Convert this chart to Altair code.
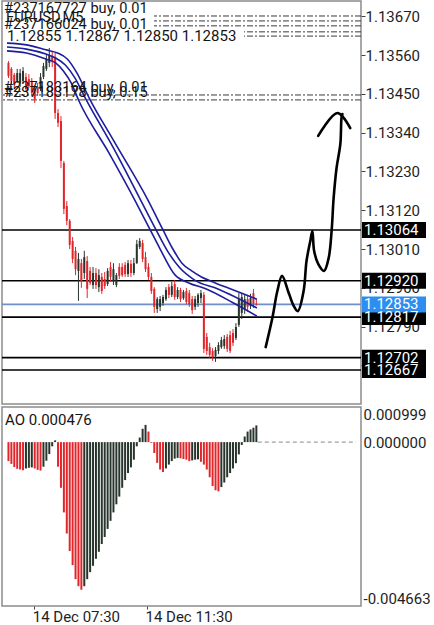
import altair as alt
import numpy as np
import pandas as pd

# ---------------- values ----------------
opens = [1.13538, 1.13521, 1.13504, 1.13487, 1.13481, 1.13487, 1.13498, 1.13492, 1.13487, 1.13464,
         1.13470, 1.13464, 1.13498, 1.13521, 1.13538, 1.13558, 1.13555, 1.13396, 1.13373, 1.13254,
         1.13132, 1.13090, 1.13033, 1.13005, 1.12948, 1.12970, 1.12942, 1.12976, 1.12948, 1.12908,
         1.12942, 1.12902, 1.12931, 1.12925, 1.12911, 1.12959, 1.12919, 1.12908, 1.12959, 1.12959,
         1.12965, 1.12939, 1.12968, 1.12942, 1.12970, 1.13016, 1.13027, 1.12987, 1.12959, 1.12931,
         1.12897, 1.12840, 1.12846, 1.12857, 1.12868, 1.12902, 1.12880, 1.12911, 1.12874, 1.12894,
         1.12871, 1.12891, 1.12885, 1.12868, 1.12846, 1.12857, 1.12871, 1.12880, 1.12761, 1.12732,
         1.12721, 1.12707, 1.12721, 1.12732, 1.12735, 1.12761, 1.12766, 1.12772, 1.12758, 1.12795,
         1.12829, 1.12840, 1.12868, 1.12849, 1.12885, 1.12855]
highs = [1.13543, 1.13526, 1.13509, 1.13521, 1.13521, 1.13526, 1.13509, 1.13506, 1.13495, 1.13470,
         1.13481, 1.13509, 1.13538, 1.13560, 1.13580, 1.13572, 1.13566, 1.13407, 1.13387, 1.13260,
         1.13146, 1.13095, 1.13044, 1.13016, 1.12999, 1.12982, 1.13005, 1.12990, 1.12959, 1.12959,
         1.12956, 1.12953, 1.12942, 1.12945, 1.12956, 1.12973, 1.12970, 1.12942, 1.12970, 1.12970,
         1.12973, 1.12979, 1.12979, 1.12985, 1.13036, 1.13041, 1.13036, 1.13002, 1.12970, 1.12942,
         1.12902, 1.12874, 1.12877, 1.12880, 1.12902, 1.12911, 1.12917, 1.12922, 1.12902, 1.12900,
         1.12894, 1.12900, 1.12894, 1.12877, 1.12877, 1.12885, 1.12894, 1.12888, 1.12772, 1.12744,
         1.12729, 1.12732, 1.12746, 1.12761, 1.12766, 1.12769, 1.12778, 1.12783, 1.12800, 1.12885,
         1.12885, 1.12880, 1.12877, 1.12883, 1.12897, 1.12867]
lows = [1.13495, 1.13475, 1.13464, 1.13481, 1.13470, 1.13481, 1.13458, 1.13467, 1.13444, 1.13424,
        1.13444, 1.13458, 1.13492, 1.13515, 1.13526, 1.13526, 1.13379, 1.13356, 1.13240, 1.13109,
        1.13078, 1.13010, 1.12970, 1.12936, 1.12863, 1.12900, 1.12925, 1.12871, 1.12908, 1.12897,
        1.12897, 1.12888, 1.12883, 1.12897, 1.12905, 1.12917, 1.12908, 1.12902, 1.12925, 1.12931,
        1.12931, 1.12931, 1.12931, 1.12936, 1.12968, 1.13010, 1.12973, 1.12945, 1.12922, 1.12883,
        1.12829, 1.12829, 1.12834, 1.12849, 1.12863, 1.12871, 1.12874, 1.12866, 1.12868, 1.12860,
        1.12866, 1.12854, 1.12846, 1.12826, 1.12837, 1.12846, 1.12857, 1.12715, 1.12710, 1.12701,
        1.12693, 1.12690, 1.12712, 1.12727, 1.12727, 1.12718, 1.12715, 1.12735, 1.12752, 1.12789,
        1.12812, 1.12826, 1.12832, 1.12840, 1.12843, 1.12850]
closes = [1.13501, 1.13487, 1.13475, 1.13509, 1.13509, 1.13515, 1.13464, 1.13472, 1.13453, 1.13436,
          1.13453, 1.13498, 1.13529, 1.13549, 1.13560, 1.13543, 1.13396, 1.13368, 1.13260, 1.13124,
          1.13090, 1.13022, 1.12982, 1.12953, 1.12982, 1.12919, 1.12987, 1.12897, 1.12914, 1.12942,
          1.12908, 1.12936, 1.12891, 1.12905, 1.12948, 1.12931, 1.12953, 1.12936, 1.12934, 1.12936,
          1.12939, 1.12970, 1.12942, 1.12970, 1.13024, 1.13033, 1.12982, 1.12953, 1.12931, 1.12891,
          1.12846, 1.12868, 1.12868, 1.12874, 1.12894, 1.12880, 1.12905, 1.12874, 1.12894, 1.12868,
          1.12888, 1.12860, 1.12854, 1.12837, 1.12868, 1.12880, 1.12885, 1.12727, 1.12721, 1.12710,
          1.12704, 1.12724, 1.12738, 1.12752, 1.12755, 1.12727, 1.12721, 1.12744, 1.12789, 1.12868,
          1.12874, 1.12868, 1.12846, 1.12871, 1.12854, 1.12853]

ao_values = [-0.00054, -0.00062, -0.00071, -0.00076, -0.00078, -0.00080, -0.00075, -0.00073, -0.00072, -0.00075,
             -0.00079, -0.00081, -0.00070, -0.00053, -0.00034, -0.00012, 0.00005, -0.00070, -0.00130, -0.00200,
             -0.00260, -0.00310, -0.00350, -0.00390, -0.00410, -0.00420, -0.00410, -0.00390, -0.00370, -0.00352,
             -0.00332, -0.00312, -0.00290, -0.00270, -0.00247, -0.00224, -0.00200, -0.00177, -0.00155, -0.00130,
             -0.00108, -0.00088, -0.00072, -0.00050, -0.00012, 0.00013, 0.00038, 0.00049, 0.00030, -0.00002,
             -0.00031, -0.00059, -0.00078, -0.00085, -0.00075, -0.00064, -0.00054, -0.00047, -0.00045, -0.00046,
             -0.00048, -0.00050, -0.00054, -0.00052, -0.00050, -0.00049, -0.00056, -0.00064, -0.00078, -0.00100,
             -0.00125, -0.00137, -0.00140, -0.00128, -0.00115, -0.00100, -0.00088, -0.00075, -0.00060, -0.00035,
             -0.00008, 0.00016, 0.00030, 0.00036, 0.00041, 0.000476]

# three moving averages (bar position, price)
ma_top_x = [-0.5, 6.17, 12.83, 16.83, 20.17, 23.5, 27.83, 36.17, 47.83, 52.83, 56.17, 59.5, 62.83, 66.17, 69.5, 75.17, 85.17]
ma_top_p = [1.13594, 1.13589, 1.13575, 1.13566, 1.13549, 1.13509, 1.13436, 1.13316, 1.13149, 1.13067, 1.13013,
            1.12970, 1.12948, 1.12931, 1.12919, 1.12900, 1.12868]
ma_mid_x = [-0.5, 6.17, 12.83, 16.17, 19.5, 22.83, 26.17, 36.17, 45.5, 50.83, 54.5, 58.5, 63.83, 71.83, 85.17]
ma_mid_p = [1.13583, 1.13577, 1.13563, 1.13552, 1.13532, 1.13495, 1.13441, 1.13294, 1.13146, 1.13061, 1.13005,
            1.12959, 1.12922, 1.12897, 1.12843]
ma_bot_x = [-0.5, 6.17, 12.83, 16.17, 18.83, 21.5, 24.17, 34.5, 43.5, 48.83, 51.83, 57.17, 61.83, 67.83, 77.17, 85.17]
ma_bot_p = [1.13572, 1.13566, 1.13549, 1.13538, 1.13515, 1.13481, 1.13430, 1.13282, 1.13146, 1.13061, 1.13013,
            1.12936, 1.12914, 1.12897, 1.12857, 1.12820]

# hand-drawn forecast arrow (bar position, price)
arrow_x = [88.2, 90.5, 92.2, 93.8, 96.2, 97.8, 99.2, 101.2, 102.2, 103.5, 104.2, 104.8, 106.2, 108.2, 109.8,
           110.8, 111.5, 112.5, 113.8, 114.2, 114.5]
arrow_p = [1.12732, 1.12815, 1.12891, 1.12934, 1.12883, 1.12849, 1.12834, 1.12891, 1.12976, 1.13033, 1.13061,
           1.13005, 1.12968, 1.12948, 1.12985, 1.13061, 1.13155, 1.13240, 1.13308, 1.13382, 1.13393]
head_x = [106.2, 112.8, 117.2]
head_p = [1.13331, 1.13396, 1.13353]

level_prices = [1.13064, 1.12920, 1.12817, 1.12702, 1.12667]
bid_price = 1.12853
order_line_prices = [1.13671, 1.13657, 1.13643, 1.13626, 1.13614, 1.13447, 1.13433]
order_labels = ["#237167727 buy, 0.01", "#237166024 buy, 0.01", "#237183164 buy, 0.01", "#237183178 buy, 0.15"]
order_label_prices = [1.13671, 1.13626, 1.13446, 1.13433]
symbol_label = "EURUSD,M5"

price_ticks = [1.13670, 1.13560, 1.13450, 1.13340, 1.13230, 1.13120, 1.13010, 1.12900, 1.12790, 1.12680]
ao_ticks = [0.000999, 0.0, -0.004663]
time_tick_pos = [8.83, 47.5]
time_tick_labels = ["14 Dec 07:30", "14 Dec 11:30"]

# ---------------- layout constants ----------------
W = 359
H_MAIN = 403
H_AO = 199
X_DOMAIN = [-0.5, W / 3 - 0.5]
Y_DOMAIN = [1.125706, 1.137135]
AO_DOMAIN = [min(ao_ticks), max(ao_ticks)]
FONT = "Roboto"
FS = 15
FS_TXT = 14.6
UP_C = "#27352c"
DN_C = "#e0262b"
TXT_C = "#151515"

XS = alt.Scale(domain=X_DOMAIN, nice=False, zero=False)
YS = alt.Scale(domain=Y_DOMAIN, nice=False, zero=False)
AOS = alt.Scale(domain=AO_DOMAIN, nice=False, zero=False)
DIR_SCALE = alt.Scale(domain=["up", "down"], range=[UP_C, DN_C])

n = len(opens)
candles = pd.DataFrame({"i": np.arange(n), "open": opens, "high": highs, "low": lows, "close": closes})
candles["dir"] = np.where(candles["close"] >= candles["open"], "up", "down")

ma = pd.concat([
    pd.DataFrame({"x": ma_top_x, "p": ma_top_p, "line": "top"}),
    pd.DataFrame({"x": ma_mid_x, "p": ma_mid_p, "line": "mid"}),
    pd.DataFrame({"x": ma_bot_x, "p": ma_bot_p, "line": "bot"}),
])

arrow = pd.concat([
    pd.DataFrame({"x": arrow_x, "p": arrow_p, "stroke": "body", "seq": range(len(arrow_x))}),
    pd.DataFrame({"x": head_x, "p": head_p, "stroke": "head", "seq": range(len(head_x))}),
])

# ---------------- main price panel ----------------
orders = alt.Chart(pd.DataFrame({"price": order_line_prices})).mark_rule(
    color="#3a3a3a", strokeWidth=1, strokeDash=[6, 2, 2, 2]
).encode(
    y=alt.Y("price:Q", scale=YS, title=None,
            axis=alt.Axis(orient="right", values=price_ticks, format=".5f", tickSize=4,
                          labelPadding=0, ticks=True, domain=False, grid=False, title=None,
                          labelFont=FONT, labelFontSize=FS, labelColor="#1e1e1e",
                          tickColor="#444444", labelOverlap=False))
)

# white backing of the chart-info text block (top-left)
one = pd.DataFrame({"k": [0]})
info_bg1 = alt.Chart(one).mark_rect(color="white").encode(
    x=alt.value(1), x2=alt.value(152), y=alt.value(1), y2=alt.value(29))
info_bg2 = alt.Chart(one).mark_rect(color="white").encode(
    x=alt.value(1), x2=alt.value(242), y=alt.value(29), y2=alt.value(41))

levels = alt.Chart(pd.DataFrame({"price": level_prices})).mark_rule(
    color="#000000", strokeWidth=1.6
).encode(y=alt.Y("price:Q", scale=YS, title=None))

bid = alt.Chart(pd.DataFrame({"price": [bid_price]})).mark_rule(
    color="#6f8fc9", strokeWidth=1.6
).encode(y=alt.Y("price:Q", scale=YS, title=None))

wicks = alt.Chart(candles).mark_rule(strokeWidth=1).encode(
    x=alt.X("i:Q", scale=XS, axis=None),
    y=alt.Y("low:Q", scale=YS, title=None),
    y2="high:Q",
    color=alt.Color("dir:N", scale=DIR_SCALE, legend=None),
)

bodies = alt.Chart(candles).mark_bar(size=2, opacity=1).encode(
    x=alt.X("i:Q", scale=XS, axis=None),
    y=alt.Y("open:Q", scale=YS, title=None),
    y2="close:Q",
    color=alt.Color("dir:N", scale=DIR_SCALE, legend=None),
)

ma_lines = alt.Chart(ma).mark_line(color="#1d1d9f", strokeWidth=1.6, interpolate="monotone").encode(
    x=alt.X("x:Q", scale=XS, axis=None),
    y=alt.Y("p:Q", scale=YS, title=None),
    detail="line:N",
)

arrow_lines = alt.Chart(arrow).mark_line(
    color="#000000", strokeWidth=2.6, interpolate="catmull-rom", strokeCap="round", strokeJoin="round"
).encode(
    x=alt.X("x:Q", scale=XS, axis=None),
    y=alt.Y("p:Q", scale=YS, title=None),
    detail="stroke:N",
    order="seq:Q",
)

level_boxes = alt.Chart(pd.DataFrame({"price": level_prices})).mark_tick(
    orient="horizontal", size=64, thickness=16, opacity=1, color="#000000"
).encode(x=alt.value(392), y=alt.Y("price:Q", scale=YS, title=None))

bid_box = alt.Chart(pd.DataFrame({"price": [bid_price]})).mark_tick(
    orient="horizontal", size=64, thickness=16, opacity=1, color="#2b8ef0"
).encode(x=alt.value(392), y=alt.Y("price:Q", scale=YS, title=None))

box_text = alt.Chart(pd.DataFrame({"price": level_prices + [bid_price]})).mark_text(
    color="white", font=FONT, fontSize=FS, align="left", baseline="middle"
).encode(
    x=alt.value(362),
    y=alt.Y("price:Q", scale=YS, title=None),
    text=alt.Text("price:Q", format=".5f"),
)

order_text = alt.Chart(pd.DataFrame({"price": order_label_prices, "label": order_labels})).mark_text(
    font=FONT, fontSize=FS_TXT, color=TXT_C, align="left", baseline="alphabetic", dy=-3
).encode(
    x=alt.value(2),
    y=alt.Y("price:Q", scale=YS, title=None),
    text="label:N",
)

symbol_text = alt.Chart(pd.DataFrame({"t": [symbol_label]})).mark_text(
    font=FONT, fontSize=FS_TXT, color=TXT_C, align="left", baseline="middle"
).encode(x=alt.value(4), y=alt.value(17), text="t:N")

ohlc_label = " ".join(f"{v:.5f}" for v in [opens[-1], highs[-1], lows[-1], closes[-1]])
ohlc_text = alt.Chart(pd.DataFrame({"t": [ohlc_label]})).mark_text(
    font=FONT, fontSize=FS, color=TXT_C, align="left", baseline="middle"
).encode(x=alt.value(5), y=alt.value(35), text="t:N")

main = alt.layer(
    orders, info_bg1, info_bg2, levels, bid, wicks, bodies, ma_lines, arrow_lines, level_boxes, bid_box,
    box_text, order_text, symbol_text, ohlc_text
).properties(width=W, height=H_MAIN)

# ---------------- AO panel ----------------
ao_df = pd.DataFrame({"i": np.arange(len(ao_values)), "ao": ao_values, "zero": 0.0})
prev = ao_df["ao"].shift(1)
ao_df["dir"] = np.where(ao_df["ao"] > prev, "up", "down")

label_expr = "''"
for pos, lab in reversed(list(zip(time_tick_pos, time_tick_labels))):
    label_expr = f"abs(datum.value - {pos}) < 0.01 ? '{lab}' : {label_expr}"

ao_bars = alt.Chart(ao_df).mark_bar(size=2, opacity=1).encode(
    x=alt.X("i:Q", scale=XS,
            axis=alt.Axis(values=time_tick_pos, labelExpr=label_expr, labelAlign="left",
                          tickSize=3, labelPadding=0, domain=False, grid=False, title=None,
                          labelFlush=False, labelOverlap=False, labelFont=FONT, labelFontSize=FS,
                          labelColor="#1e1e1e", tickColor="#444444", labelOffset=-2)),
    y=alt.Y("ao:Q", scale=AOS,
            axis=alt.Axis(orient="right", values=ao_ticks, format=".6f",
                          labelExpr="replace(datum.label, '\u2212', '-')", labelFlush=True,
                          ticks=False, labelPadding=2, domain=False, grid=False, title=None,
                          labelFont=FONT, labelFontSize=FS, labelColor="#1e1e1e", labelOverlap=False)),
    y2="zero:Q",
    color=alt.Color("dir:N", scale=DIR_SCALE, legend=None),
)

zero_line = alt.Chart(pd.DataFrame({"x0": [len(ao_values) - 0.5], "x1": [X_DOMAIN[1]], "ao": [0.0]})).mark_rule(
    color="#8a8a8a", strokeWidth=1, strokeDash=[4, 3]
).encode(
    x=alt.X("x0:Q", scale=XS), x2="x1:Q",
    y=alt.Y("ao:Q", scale=AOS),
)

ao_text = alt.Chart(pd.DataFrame({"t": [f"AO {ao_values[-1]:.6f}"]})).mark_text(
    font=FONT, fontSize=FS, color=TXT_C, align="left", baseline="middle"
).encode(x=alt.value(3), y=alt.value(13), text="t:N")

ao_chart = alt.layer(zero_line, ao_bars, ao_text).properties(width=W, height=H_AO)

chart = alt.vconcat(main, ao_chart, spacing=1).properties(
    padding={"left": 0, "top": 0, "right": 0, "bottom": 0}
).configure_view(
    stroke="#8c8c8c", strokeWidth=1.5
)

chart.save("out.html", embed_options={"renderer": "svg", "actions": False})
